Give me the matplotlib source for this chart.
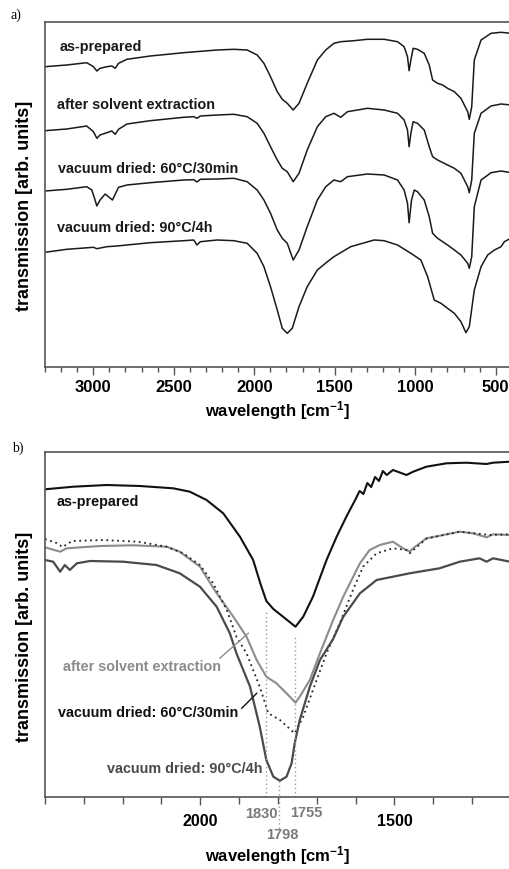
import matplotlib
matplotlib.use("Agg")
import matplotlib.pyplot as plt
from matplotlib.ticker import MultipleLocator, FixedLocator

plt.rcParams['font.family'] = ['Liberation Sans', 'DejaVu Sans']
plt.rcParams['font.weight'] = 'bold'
plt.rcParams['mathtext.fontset'] = 'custom'
plt.rcParams['mathtext.rm'] = 'Liberation Sans:bold'
plt.rcParams['mathtext.bf'] = 'Liberation Sans:bold'
plt.rcParams['mathtext.default'] = 'rm'

# ---------------- Panel a data (wavenumber cm^-1, transmission arb. units) -------------
wn_a1 = [3300, 3165, 3041, 2999, 2978, 2958, 2916, 2885, 2864, 2843, 2791, 2646, 2439, 2231,
         2127, 2044, 1982, 1940, 1899, 1857, 1826, 1795, 1758, 1722, 1671, 1608, 1556, 1505,
         1463, 1380, 1297, 1193, 1110, 1069, 1048, 1038, 1027, 1013, 986, 944, 913, 892, 861,
         830, 799, 757, 716, 674, 664, 649, 633, 591, 529, 467, 404]
t_a1 = [300.3, 302, 304.3, 300.3, 296, 298.7, 300.3, 301, 298.7, 303.7, 307.7, 311, 314.3, 317,
        317.7, 317, 312, 303.7, 290.3, 275.3, 267.7, 263.7, 257, 263.7, 283.7, 307, 317, 323.7,
        325.3, 326.3, 327.7, 327.7, 325.3, 320.3, 310.3, 296.3, 307, 318.7, 317.7, 313.7, 302, 287, 283.7,
        282, 278.7, 275.3, 268.7, 255.3, 247.7, 260.3, 307, 327, 333.7, 334.7, 333.7]

wn_a2 = [3300, 3165, 3041, 2999, 2978, 2958, 2916, 2885, 2864, 2843, 2791, 2646, 2439, 2376,
         2356, 2335, 2231, 2127, 2044, 1982, 1940, 1899, 1857, 1826, 1795, 1758, 1722, 1671,
         1608, 1556, 1505, 1463, 1421, 1297, 1193, 1110, 1069, 1048, 1038, 1027, 1013, 986,
         944, 913, 892, 861, 799, 757, 716, 674, 664, 649, 633, 591, 529, 467, 404]
t_a2 = [236.3, 238, 241, 235.3, 228.7, 232, 234.3, 236, 232.7, 237.7, 243, 246.3, 249.7, 250.3,
        248.7, 251, 252, 252.7, 250.3, 243.7, 233.7, 220.3, 207, 198.7, 195.3, 185.3, 193.7, 217,
        240.3, 250.3, 253.7, 249.7, 255.3, 258.7, 257, 253.7, 247, 237, 220.3, 233.7, 245.3, 243.7,
        237, 220.3, 210.3, 207, 202, 198.7, 193.7, 180.3, 174.3, 187, 233.7, 253.7, 261, 263, 262]

wn_a3 = [3300, 3165, 3041, 3009, 2989, 2978, 2958, 2926, 2881, 2843, 2791, 2646, 2439, 2376,
         2356, 2335, 2231, 2127, 2044, 1982, 1940, 1899, 1857, 1826, 1795, 1758, 1722, 1671,
         1608, 1556, 1505, 1463, 1421, 1297, 1193, 1110, 1069, 1048, 1038, 1023, 1006, 986,
         944, 913, 892, 861, 799, 757, 716, 674, 664, 649, 633, 591, 529, 467, 404]
t_a3 = [176, 177.7, 180.3, 177, 167, 161, 167, 173, 167, 179.7, 182, 184.3, 187, 187.3,
        185, 187.7, 188, 188.7, 185.3, 177, 167, 153.7, 137, 128.7, 123.7, 107, 117, 140.3,
        167, 180.3, 187, 185.3, 190.3, 193, 192, 187, 177, 163.7, 144.3, 167, 177, 175.3,
        167, 150.3, 133.7, 128.7, 122, 117, 112, 103.7, 98.7, 110.3, 160.3, 187, 194.3, 196, 194.3]

wn_a4 = [3300, 3165, 2999, 2978, 2916, 2854, 2646, 2439, 2376, 2356, 2335, 2231, 2127, 2044,
         1982, 1940, 1899, 1857, 1826, 1795, 1764, 1722, 1671, 1608, 1546, 1505, 1401, 1255,
         1193, 1110, 1027, 965, 923, 882, 840, 799, 757, 716, 685, 664, 633, 591, 550, 508,
         467, 446, 404]
t_a4 = [114.7, 117.7, 119.7, 118.3, 120.3, 121, 124.3, 126.3, 127, 122, 125.3, 127, 126.3, 123.7,
        113.7, 100.3, 80.3, 57, 38.7, 33.7, 38.7, 60.3, 80.3, 97, 105.3, 110.3, 120.3, 127,
        126.3, 122, 113.7, 107, 90.3, 67, 63.7, 58.7, 53.7, 45.3, 34.3, 40.3, 77, 100.3, 112, 117,
        120.3, 125.3, 129]

labels_a = ["as-prepared", "after solvent extraction",
            "vacuum dried: 60\u00b0C/30min", "vacuum dried: 90\u00b0C/4h"]

# ---------------- Panel b data -------------
wn_b1 = [2400, 2327, 2241, 2156, 2070, 2027, 1984, 1941, 1898, 1864, 1845, 1830, 1812, 1787,
         1755, 1735, 1710, 1675, 1649, 1624, 1600, 1590, 1580, 1570, 1560, 1550, 1540, 1530,
         1520, 1504, 1469, 1452, 1418, 1366, 1315, 1263, 1246, 1203]
t_b1 = [307.7, 310.3, 312, 311, 308.7, 305.3, 297, 283.7, 260.3, 237, 213, 196, 188, 180.3,
        170.3, 180.3, 200.3, 237, 260.3, 280.3, 298, 306, 303, 314, 310, 320, 316, 326,
        322, 327, 322, 325.3, 330.3, 333.7, 334.3, 333, 334.3, 335.3]

wn_b2 = [2400, 2361, 2344, 2258, 2173, 2087, 2053, 2001, 1958, 1915, 1881, 1855, 1830, 1804,
         1778, 1755, 1744, 1718, 1692, 1658, 1632, 1589, 1564, 1538, 1504, 1478, 1461, 1452,
         1418, 1332, 1298, 1263, 1246, 1203]
t_b2 = [249.7, 245.3, 248.7, 251, 251.7, 250.3, 245.3, 230.3, 203.7, 180.3, 160.3, 137, 120.3, 113.7,
        103.7, 94.3, 100.3, 117, 143.7, 177, 200.3, 233.7, 247, 252, 255.3, 248.7, 245.3, 248.7,
        258.7, 265.3, 263.7, 259.7, 262.7, 262]

wn_b3 = [2400, 2370, 2355, 2330, 2250, 2160, 2087, 2044, 2001, 1967, 1932, 1907, 1881, 1847,
         1825, 1795, 1757, 1735, 1710, 1675, 1641, 1607, 1581, 1546, 1504, 1469, 1461, 1418,
         1332, 1255, 1203]
t_b3 = [258, 254, 250, 256, 257, 255.3, 250.3, 243.7, 232, 213.7, 187, 160.3, 143.7, 110.3,
        83.7, 77, 63.7, 80.3, 107, 143.7, 173.7, 207, 230.3, 243.7, 248.7, 247, 243.7, 258.3,
        265.3, 262, 262.7]

wn_b4 = [2400, 2379, 2361, 2349, 2336, 2318, 2284, 2199, 2113, 2053, 2001, 1958, 1924, 1907,
         1872, 1847, 1830, 1812, 1795, 1778, 1765, 1757, 1744, 1718, 1692, 1658, 1632, 1589,
         1546, 1504, 1461, 1384, 1332, 1281, 1263, 1246, 1203]
t_b4 = [237, 235.3, 225.3, 232, 227, 233.7, 236, 235.3, 232, 223.7, 210.3, 190.3, 163.7, 143.7,
        110.3, 70.3, 37, 20.3, 16.3, 20.3, 33.7, 53.7, 77, 110.3, 137, 158, 180.3, 203.7,
        217, 220.3, 223.7, 228.7, 235.3, 238.7, 235.3, 238.7, 235.3]

peak_marks = [1830, 1798, 1755]

W, H = 510, 869
fig = plt.figure(figsize=(W / 100, H / 100), dpi=100)

def fx(px):
    return px / W

def fy(py):
    return 1 - py / H

spine_col = '#555555'
LBL = 10.4

def style_axes(ax):
    for s in ax.spines.values():
        s.set_color(spine_col)
        s.set_linewidth(1.2)
    ax.tick_params(axis='y', left=False, labelleft=False)
    ax.tick_params(axis='x', which='both', direction='out', color=spine_col, width=1.0)
    ax.tick_params(axis='x', which='major', length=6, labelsize=12, pad=3)
    ax.tick_params(axis='x', which='minor', length=3.5)
    for lab in ax.get_xticklabels():
        lab.set_fontweight('bold')

# ---------------- Panel a -------------
axa = fig.add_axes([fx(45), fy(367), (511 - 45) / W, (367 - 22) / H])
for wn, t in [(wn_a1, t_a1), (wn_a2, t_a2), (wn_a3, t_a3), (wn_a4, t_a4)]:
    axa.plot(wn, t, color='#1a1a1a', lw=1.1)
axa.set_xlim(3300, 405)
axa.set_ylim(0, 345)
axa.xaxis.set_major_locator(MultipleLocator(500))
axa.xaxis.set_minor_locator(MultipleLocator(100))
style_axes(axa)

for txt, (px, py) in zip(labels_a, [(60, 47), (57.5, 105), (58, 169), (57, 228)]):
    fig.text(fx(px), fy(py), txt, fontsize=LBL, fontweight='bold', color='#1a1a1a',
             ha='left', va='center')

fig.text(fx(278), fy(411), "wavelength [cm$^{-1}$]", fontsize=12, fontweight='bold',
         ha='center', va='center')
fig.text(fx(25), fy(206), "transmission [arb. units]", fontsize=13, fontweight='bold',
         rotation=90, ha='center', va='center')
fig.text(fx(11), fy(15), "a)", fontsize=10, family='Liberation Serif', fontweight='normal',
         ha='left', va='center')

# ---------------- Panel b -------------
axb = fig.add_axes([fx(45), fy(797), (511 - 45) / W, (797 - 452) / H])
axb.plot(wn_b1, t_b1, color='#111111', lw=1.5)
axb.plot(wn_b2, t_b2, color='#8c8c8c', lw=1.5)
axb.plot(wn_b3, t_b3, color='#222222', lw=1.3, ls=(0, (1, 2)))
axb.plot(wn_b4, t_b4, color='#4a4a4a', lw=1.6)
axb.set_xlim(2400, 1200)
axb.set_ylim(0, 345)
axb.xaxis.set_major_locator(FixedLocator([2000, 1500]))
axb.xaxis.set_minor_locator(MultipleLocator(100))
style_axes(axb)
axb.tick_params(axis='x', which='major', labelsize=11.5, pad=6)
axb.tick_params(axis='x', which='minor', length=5)

# dotted peak markers
axb.plot([peak_marks[0]] * 2, [0, 185], color='#999999', lw=1.0, ls=(0, (1, 2)))
axb.plot([peak_marks[2]] * 2, [0, 160], color='#999999', lw=1.0, ls=(0, (1, 2)))
axb.plot([peak_marks[1]] * 2, [16, -33], color='#999999', lw=1.0, ls=(0, (1, 2)), clip_on=False)

fig.text(fx(261), fy(814), str(peak_marks[0]), fontsize=10.5, fontweight='bold', color='#7a7a7a',
         ha='center', va='center')
fig.text(fx(306), fy(813), str(peak_marks[2]), fontsize=10.5, fontweight='bold', color='#7a7a7a',
         ha='center', va='center')
fig.text(fx(282.5), fy(835), str(peak_marks[1]), fontsize=10.5, fontweight='bold', color='#7a7a7a',
         ha='center', va='center')

fig.text(fx(56.7), fy(501.7), labels_a[0], fontsize=LBL, fontweight='bold', color='#111111',
         ha='left', va='center')
fig.text(fx(63.3), fy(666.7), labels_a[1], fontsize=LBL, fontweight='bold', color='#8c8c8c',
         ha='left', va='center')
fig.text(fx(58.3), fy(713.3), labels_a[2], fontsize=LBL, fontweight='bold', color='#111111',
         ha='left', va='center')
fig.text(fx(106.7), fy(769.3), labels_a[3], fontsize=LBL, fontweight='bold', color='#4a4a4a',
         ha='left', va='center')

# pointer lines
fig.add_artist(plt.Line2D([fx(220), fx(248.3)], [fy(658), fy(633.3)], color='#8c8c8c', lw=1.0))
fig.add_artist(plt.Line2D([fx(241.7), fx(256.7)], [fy(708.3), fy(693.3)], color='#111111', lw=1.0))

fig.text(fx(278), fy(856), "wavelength [cm$^{-1}$]", fontsize=12, fontweight='bold',
         ha='center', va='center')
fig.text(fx(25), fy(637), "transmission [arb. units]", fontsize=13, fontweight='bold',
         rotation=90, ha='center', va='center')
fig.text(fx(12), fy(448), "b)", fontsize=10, family='Liberation Serif', fontweight='normal',
         ha='left', va='center')

fig.savefig("out.png", dpi=100)
